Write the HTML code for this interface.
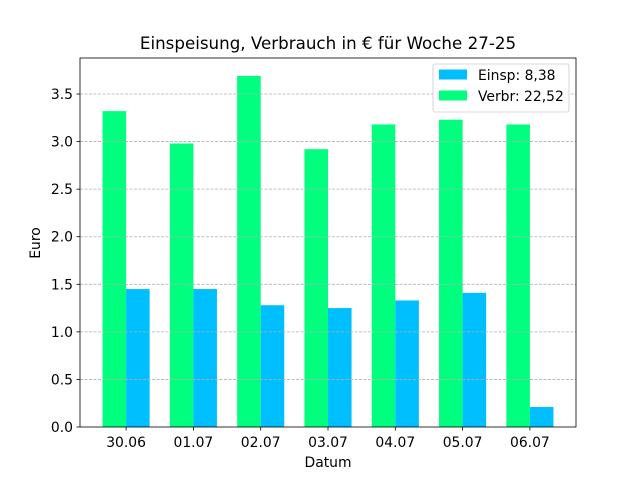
<!DOCTYPE html>
<html><head><meta charset="utf-8"><style>body{margin:0;background:#fff}svg{display:block}text{font-family:"DejaVu Sans","Liberation Sans",sans-serif;fill:#000}</style></head><body>
<svg width="640" height="480" viewBox="0 0 640 480" xmlns="http://www.w3.org/2000/svg">
<rect width="640" height="480" fill="#fff"/>
<g fill="#00ff7f">
<rect x="102.55" y="111.14" width="23.55" height="315.86"/>
<rect x="169.85" y="143.48" width="23.55" height="283.52"/>
<rect x="237.15" y="75.93" width="23.55" height="351.07"/>
<rect x="304.45" y="149.19" width="23.55" height="277.81"/>
<rect x="371.75" y="124.45" width="23.55" height="302.55"/>
<rect x="439.05" y="119.70" width="23.55" height="307.30"/>
<rect x="506.35" y="124.45" width="23.55" height="302.55"/>
</g>
<g fill="#00bfff">
<rect x="126.1" y="289.05" width="23.55" height="137.95"/>
<rect x="193.4" y="289.05" width="23.55" height="137.95"/>
<rect x="260.7" y="305.22" width="23.55" height="121.78"/>
<rect x="328.0" y="308.07" width="23.55" height="118.93"/>
<rect x="395.3" y="300.46" width="23.55" height="126.54"/>
<rect x="462.6" y="292.85" width="23.55" height="134.15"/>
<rect x="529.9" y="407.02" width="23.55" height="19.98"/>
</g>
<g stroke="#b0b0b0" stroke-width="0.8" stroke-dasharray="3,1.5">
<line x1="80" x2="576" y1="379.43" y2="379.43"/>
<line x1="80" x2="576" y1="331.86" y2="331.86"/>
<line x1="80" x2="576" y1="284.29" y2="284.29"/>
<line x1="80" x2="576" y1="236.72" y2="236.72"/>
<line x1="80" x2="576" y1="189.15" y2="189.15"/>
<line x1="80" x2="576" y1="141.58" y2="141.58"/>
<line x1="80" x2="576" y1="94.01" y2="94.01"/>
</g>
<g stroke="#000" stroke-width="0.8">
<line x1="76.5" x2="80" y1="427" y2="427"/>
<line x1="76.5" x2="80" y1="379.43" y2="379.43"/>
<line x1="76.5" x2="80" y1="331.86" y2="331.86"/>
<line x1="76.5" x2="80" y1="284.29" y2="284.29"/>
<line x1="76.5" x2="80" y1="236.72" y2="236.72"/>
<line x1="76.5" x2="80" y1="189.15" y2="189.15"/>
<line x1="76.5" x2="80" y1="141.58" y2="141.58"/>
<line x1="76.5" x2="80" y1="94.01" y2="94.01"/>
<line x1="126.1" x2="126.1" y1="427" y2="430.5"/>
<line x1="193.4" x2="193.4" y1="427" y2="430.5"/>
<line x1="260.7" x2="260.7" y1="427" y2="430.5"/>
<line x1="328.0" x2="328.0" y1="427" y2="430.5"/>
<line x1="395.3" x2="395.3" y1="427" y2="430.5"/>
<line x1="462.6" x2="462.6" y1="427" y2="430.5"/>
<line x1="529.9" x2="529.9" y1="427" y2="430.5"/>
</g>
<g font-size="13.9" text-anchor="end">
<text x="73" y="432">0.0</text>
<text x="73" y="384.4">0.5</text>
<text x="73" y="336.9">1.0</text>
<text x="73" y="289.3">1.5</text>
<text x="73" y="241.7">2.0</text>
<text x="73" y="194.2">2.5</text>
<text x="73" y="146.6">3.0</text>
<text x="73" y="99">3.5</text>
</g>
<g font-size="13.9" text-anchor="middle">
<text x="126.1" y="447">30.06</text>
<text x="193.4" y="447">01.07</text>
<text x="260.7" y="447">02.07</text>
<text x="328.0" y="447">03.07</text>
<text x="395.3" y="447">04.07</text>
<text x="462.6" y="447">05.07</text>
<text x="529.9" y="447">06.07</text>
</g>
<rect x="80" y="58" width="496" height="369" fill="none" stroke="#000" stroke-width="0.8"/>
<text x="328" y="49" font-size="16.7" text-anchor="middle">Einspeisung, Verbrauch in € für Woche 27-25</text>
<text x="328" y="467" font-size="13.9" text-anchor="middle">Datum</text>
<text x="40" y="243" font-size="13.9" text-anchor="middle" transform="rotate(-90 40 243)">Euro</text>
<rect x="433" y="64" width="136" height="48" rx="2" fill="#fff" fill-opacity="0.8" stroke="#ccc" stroke-width="0.8"/>
<rect x="439" y="69.5" width="28" height="10" fill="#00bfff"/>
<text x="478" y="80" font-size="13.9">Einsp: 8,38</text>
<rect x="439" y="90.5" width="28" height="10" fill="#00ff7f"/>
<text x="478" y="101" font-size="13.9">Verbr: 22,52</text>
</svg>
</body></html>
